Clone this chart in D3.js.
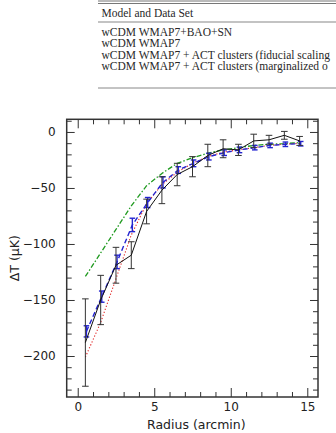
<!DOCTYPE html>
<html><head><meta charset="utf-8">
<script src="https://cdn.jsdelivr.net/npm/d3@7"></script>
<style>html,body{margin:0;padding:0;background:#fff;}svg{display:block;}</style>
</head><body>
<script>
// ---- data ----
const tableHeader = "Model and Data Set";
const tableRows = [
  "wCDM WMAP7+BAO+SN",
  "wCDM WMAP7",
  "wCDM WMAP7 + ACT clusters (fiducial scaling",
  "wCDM WMAP7 + ACT clusters (marginalized o"
];
const radius = [0.5,1.5,2.5,3.5,4.5,5.5,6.5,7.5,8.5,9.5,10.5,11.5,12.5,13.5,14.5];
const obsValue = [-188,-150,-119,-110,-71,-52,-38,-31,-21,-15,-16,-8,-7,-3,-8];
const obsError = [39,22,16,12,11,12,10,9,10,8,5,6,4,3.5,4];
const blueValue = [-178,-147,-116,-83,-63,-45,-34,-28,-22,-18.5,-16,-14,-12,-11,-10.5];
const blueError = [5,5,6,6,4.5,5,3,3,3,2.5,2.5,2,2,2,2];
const redModel = [-201,-170,-131,-92,-64,-47,-36,-28,-22,-18,-16,-14,-12,-11,-10];
const greenModel = [-129,-108,-87,-66,-48,-37,-28,-23,-19,-16,-14,-12,-11,-10.4,-9.5];
const xMajorTicks = [0,5,10,15];
const yMajorTicks = [0,-50,-100,-150,-200];
const xLabel = "Radius (arcmin)";
const yLabel = "\u0394T (\u03BCK)";

// ---- drawing ----
const W = 336, H = 433;
const svg = d3.select("body").append("svg").attr("width", W).attr("height", H);

// table
const tbl = svg.append("g");
const tx = 98;
tbl.append("line").attr("x1",tx).attr("x2",W).attr("y1",1).attr("y2",1).attr("stroke","#777").attr("stroke-width",1);
tbl.append("line").attr("x1",tx).attr("x2",W).attr("y1",3.5).attr("y2",3.5).attr("stroke","#777").attr("stroke-width",1);
tbl.append("line").attr("x1",tx).attr("x2",W).attr("y1",22).attr("y2",22).attr("stroke","#888").attr("stroke-width",1.2);
tbl.append("line").attr("x1",tx).attr("x2",W).attr("y1",88).attr("y2",88).attr("stroke","#888").attr("stroke-width",1);
const serif = "Liberation Serif, Times New Roman, serif";
tbl.append("text").attr("x",101.5).attr("y",17.3).text(tableHeader)
  .attr("font-family",serif).attr("font-size",11.5).attr("fill","#282828");
tbl.selectAll("text.row").data(tableRows).enter().append("text").attr("class","row")
  .attr("x",101.5).attr("y",(d,i)=>36+i*11.4).text(d=>d)
  .attr("font-family",serif).attr("font-size",11.5).attr("fill","#282828");

// plot
const x = d3.scaleLinear().domain([-0.72, 15.7]).range([66.7, 318]);
const y = d3.scaleLinear().domain([-236.6, 11.3]).range([397, 119.3]);
const L = 66.7, R = 318, T = 119.3, B = 397;
const font = "DejaVu Sans, sans-serif";
const axisCol = "#333";

function styleAxis(g){
  g.selectAll("path.domain").remove();
  g.selectAll("line").attr("stroke",axisCol).attr("stroke-width",1);
  g.selectAll("text").attr("font-family",font).attr("font-size",12).attr("fill","#222");
}
const xMinor = d3.range(0,16,1).filter(v=>!xMajorTicks.includes(v));
const yMinor = d3.range(-230,11,10).filter(v=>!yMajorTicks.includes(v));

// bottom
svg.append("g").attr("transform",`translate(0,${B})`)
  .call(d3.axisBottom(x).tickValues(xMajorTicks).tickSize(-9).tickPadding(5).tickFormat(d3.format("d")))
  .call(styleAxis);
svg.append("g").attr("transform",`translate(0,${B})`)
  .call(d3.axisBottom(x).tickValues(xMinor).tickSize(-5).tickFormat("")).call(styleAxis);
// top
svg.append("g").attr("transform",`translate(0,${T})`)
  .call(d3.axisTop(x).tickValues(xMajorTicks).tickSize(-9).tickFormat("")).call(styleAxis);
svg.append("g").attr("transform",`translate(0,${T})`)
  .call(d3.axisTop(x).tickValues(xMinor).tickSize(-5).tickFormat("")).call(styleAxis);
// left
const minusFmt = v => v < 0 ? "\u2212" + Math.abs(v) : String(v);
svg.append("g").attr("transform",`translate(${L},0)`)
  .call(d3.axisLeft(y).tickValues(yMajorTicks).tickSize(-8).tickPadding(11).tickFormat(minusFmt))
  .call(styleAxis);
svg.append("g").attr("transform",`translate(${L},0)`)
  .call(d3.axisLeft(y).tickValues(yMinor).tickSize(-5).tickFormat("")).call(styleAxis);
// right
svg.append("g").attr("transform",`translate(${R},0)`)
  .call(d3.axisRight(y).tickValues(yMajorTicks).tickSize(-8).tickFormat("")).call(styleAxis);
svg.append("g").attr("transform",`translate(${R},0)`)
  .call(d3.axisRight(y).tickValues(yMinor).tickSize(-5).tickFormat("")).call(styleAxis);

// frame
svg.append("rect").attr("x",L).attr("y",T).attr("width",R-L).attr("height",B-T)
  .attr("fill","none").attr("stroke",axisCol).attr("stroke-width",1.5);

// labels
svg.append("text").attr("x",(L+R)/2+4).attr("y",429).attr("text-anchor","middle")
  .attr("font-family",font).attr("font-size",12.5).attr("fill","#222").text(xLabel);
svg.append("text").attr("transform",`translate(19,${(T+B)/2}) rotate(-90)`).attr("text-anchor","middle")
  .attr("font-family",font).attr("font-size",12.5).attr("fill","#222").text(yLabel);

// curves
const lineGen = (vals, dx) => d3.line().x((d,i)=>x(radius[i]+dx)).y(d=>y(d))(vals);
const plot = svg.append("g");

plot.append("path").attr("d",lineGen(greenModel,0)).attr("fill","none")
  .attr("stroke","#1f9a1f").attr("stroke-width",1.3).attr("stroke-dasharray","5,2,1.5,2");
plot.append("path").attr("d",lineGen(redModel,0)).attr("fill","none")
  .attr("stroke","#e02020").attr("stroke-width",1.1).attr("stroke-dasharray","1.2,2");

// blue error bars + dashed line
const bdx = 0.07;
const bBars = plot.append("g");
radius.forEach((r,i)=>{
  const xc = x(r+bdx), y1 = y(blueValue[i]+blueError[i]), y2 = y(blueValue[i]-blueError[i]);
  bBars.append("line").attr("x1",xc).attr("x2",xc).attr("y1",y1).attr("y2",y2).attr("stroke","#2424d0").attr("stroke-width",1.4);
  [y1,y2].forEach(yy=>bBars.append("line").attr("x1",xc-2.8).attr("x2",xc+2.8).attr("y1",yy).attr("y2",yy).attr("stroke","#2424d0").attr("stroke-width",1.4));
});
plot.append("path").attr("d",lineGen(blueValue,bdx)).attr("fill","none")
  .attr("stroke","#2424d0").attr("stroke-width",1.4).attr("stroke-dasharray","5,3");

// black observations
const kBars = plot.append("g");
radius.forEach((r,i)=>{
  const xc = x(r), y1 = y(obsValue[i]+obsError[i]), y2 = y(obsValue[i]-obsError[i]);
  kBars.append("line").attr("x1",xc).attr("x2",xc).attr("y1",y1).attr("y2",y2).attr("stroke","#333").attr("stroke-width",1);
  [y1,y2].forEach(yy=>kBars.append("line").attr("x1",xc-3.3).attr("x2",xc+3.3).attr("y1",yy).attr("y2",yy).attr("stroke","#333").attr("stroke-width",1));
});
plot.append("path").attr("d",lineGen(obsValue,0)).attr("fill","none")
  .attr("stroke","#111").attr("stroke-width",1);
</script>
</body></html>
